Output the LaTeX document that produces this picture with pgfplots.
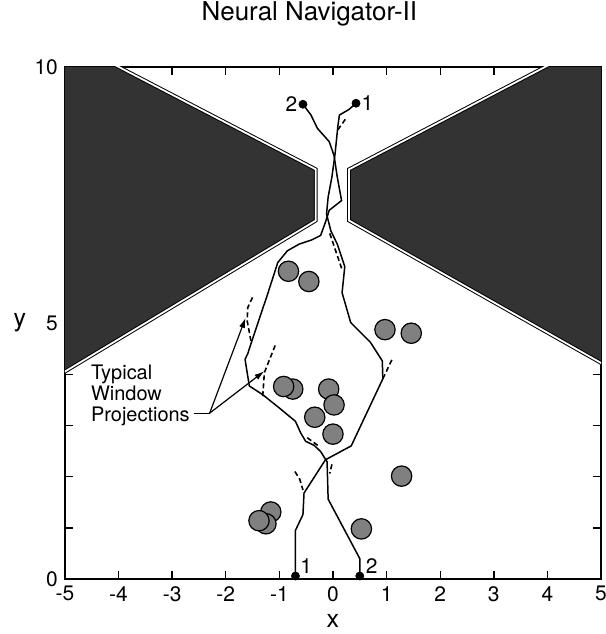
\documentclass[border=0pt]{standalone}
\usepackage{fontspec}
\setmainfont{TeX Gyre Heros}
\usepackage{pgfplots}
\pgfplotsset{compat=1.18}
\usetikzlibrary{arrows.meta}

\pgfplotstableread{
x y
-0.70 0.06
-0.70 0.95
-0.56 1.26
-0.54 1.68
-0.14 2.33
0.34 2.60
0.93 3.91
0.92 4.26
0.70 4.62
0.33 5.01
0.17 5.59
0.22 6.10
0.08 6.54
-0.04 6.80
-0.12 7.13
-0.09 7.46
-0.02 7.85
0.04 8.31
0.09 8.83
0.12 9.06
0.30 9.17
0.43 9.29
}\pathone

\pgfplotstableread{
x y
0.50 0.06
0.50 0.40
-0.09 1.56
-0.11 2.29
-0.23 2.49
-0.35 2.61
-0.51 2.69
-0.60 2.85
-0.70 3.08
-1.00 3.34
-1.31 3.60
-1.56 3.77
-1.64 4.29
-1.59 4.40
-1.41 4.97
-1.22 5.56
-1.03 6.18
-0.85 6.41
-0.63 6.54
-0.40 6.62
-0.23 6.71
-0.14 6.97
-0.07 7.20
0.16 7.39
0.08 7.85
0.02 8.27
-0.07 8.54
-0.29 8.80
-0.41 9.06
-0.56 9.27
}\pathtwo

\pgfplotstableread{
x y
-0.83 6.01
-0.45 5.81
0.97 4.87
1.46 4.80
-0.75 3.71
-0.92 3.76
-0.08 3.71
0.02 3.40
-0.34 3.16
0.00 2.83
1.28 2.01
0.53 0.98
-1.16 1.31
-1.25 1.08
-1.38 1.14
}\circles

\begin{document}
\begin{tikzpicture}
\useasboundingbox (-32.5pt,-27.5pt) rectangle (270.5pt,290pt);
\begin{axis}[
  at={(0,0)}, anchor=south west,
  scale only axis, width=268.5pt, height=256.5pt,
  xmin=-5, xmax=5, ymin=0, ymax=10,
  xtick={-5,-4,-3,-2,-1,0,1,2,3,4,5},
  xticklabels={-5,-4,-3,-2,-1,0,1,2,3,4,5},
  ytick={0,1,2,3,4,5,6,7,8,9,10},
  yticklabels={0,,,,,5,,,,,10},
  tick align=inside,
  major tick length=4pt,
  axis line style={line width=0.8pt},
  every tick/.style={line width=0.7pt, black},
  /pgf/number format/assume math mode=true,
  ticklabel style={font=\fontsize{10.5}{12}\selectfont},
  title={Neural Navigator-II},
  title style={at={(axis description cs:0.456,1)}, anchor=base, yshift=17pt, font=\fontsize{13}{15}\selectfont},
  xlabel={x}, ylabel={y},
  every axis x label/.style={at={(axis description cs:0.5,0)}, anchor=center, yshift=-21pt, font=\fontsize{12.5}{15}\selectfont},
  every axis y label/.style={at={(axis description cs:0,0.5)}, anchor=center, xshift=-22.5pt, font=\fontsize{12.5}{15}\selectfont},
]
% obstacles
\addplot[fill=black!80, draw=none] coordinates {(-5,10) (-4.0,10) (-0.32,8.0) (-0.32,7.0) (-5,4.05)} -- cycle;
\addplot[draw=black, line width=0.5pt, double=white, double distance=0.9pt, line join=miter] coordinates {(-4.09,10.05) (-0.32,8.0) (-0.32,7.0) (-5.05,4.02)};
\addplot[fill=black!80, draw=none] coordinates {(5,10) (3.96,10) (0.30,8.0) (0.30,7.0) (5,4.22)} -- cycle;
\addplot[draw=black, line width=0.5pt, double=white, double distance=0.9pt, line join=miter] coordinates {(4.05,10.05) (0.30,8.0) (0.30,7.0) (5.05,4.19)};
% circles
\addplot[only marks, mark=*, mark size=5.1pt, mark options={fill=black!50, draw=black, line width=0.6pt}] table {\circles};
% trajectories
\addplot[black, line width=0.75pt, mark=none] table {\pathone};
\addplot[black, line width=0.75pt, mark=none] table {\pathtwo};
% window projections
\addplot[black, line width=0.8pt, dash pattern=on 2.5pt off 1.5pt] coordinates {(-0.71,2.10) (-0.62,1.95) (-0.56,1.74)};
\addplot[black, line width=0.8pt, dash pattern=on 2.5pt off 1.5pt] coordinates {(-0.02,2.24) (-0.06,2.06)};
\addplot[black, line width=0.8pt, dash pattern=on 2.5pt off 1.5pt] coordinates {(-0.48,2.76) (-0.27,2.60)};
\addplot[black, line width=0.8pt, dash pattern=on 2.5pt off 1.5pt] coordinates {(0.93,3.91) (1.12,4.33)};
\addplot[black, line width=0.8pt, dash pattern=on 2.5pt off 1.5pt] coordinates {(-1.31,3.57) (-1.28,4.03) (-1.06,4.61)};
\addplot[black, line width=0.8pt, dash pattern=on 2.5pt off 1.5pt] coordinates {(-1.53,4.65) (-1.60,5.04) (-1.59,5.30) (-1.50,5.50)};
\addplot[black, line width=0.8pt, dash pattern=on 2.5pt off 1.5pt] coordinates {(-0.06,6.75) (0.17,6.04)};
\addplot[black, line width=0.8pt, dash pattern=on 2.5pt off 1.5pt] coordinates {(0.09,8.77) (0.26,9.02)};
% endpoints
\addplot[only marks, mark=*, mark size=2pt, black] coordinates {(-0.70,0.06) (0.50,0.06) (-0.56,9.27) (0.43,9.29)};
\node[anchor=east, inner sep=1pt, font=\fontsize{10.5}{12}\selectfont] at (axis cs:-0.62,9.27) {2};
\node[anchor=west, inner sep=1pt, font=\fontsize{10.5}{12}\selectfont] at (axis cs:0.49,9.29) {1};
\node[font=\fontsize{10.5}{12}\selectfont] at (axis cs:-0.50,0.25) {1};
\node[font=\fontsize{10.5}{12}\selectfont] at (axis cs:0.72,0.25) {2};
% annotation
\node[anchor=north west, align=left, inner sep=0pt, font=\fontsize{10}{10.4}\selectfont] at (axis cs:-4.52,4.18) {Typical\\Window\\Projections};
\draw[line width=0.6pt] (axis cs:-2.60,3.24) -- (axis cs:-2.30,3.24);
\draw[line width=0.6pt, -{Latex[length=5pt,width=3pt]}] (axis cs:-2.30,3.24) -- (axis cs:-1.63,5.10);
\draw[line width=0.6pt, -{Latex[length=5pt,width=3pt]}] (axis cs:-2.30,3.24) -- (axis cs:-1.28,4.06);
\end{axis}
\end{tikzpicture}
\end{document}
